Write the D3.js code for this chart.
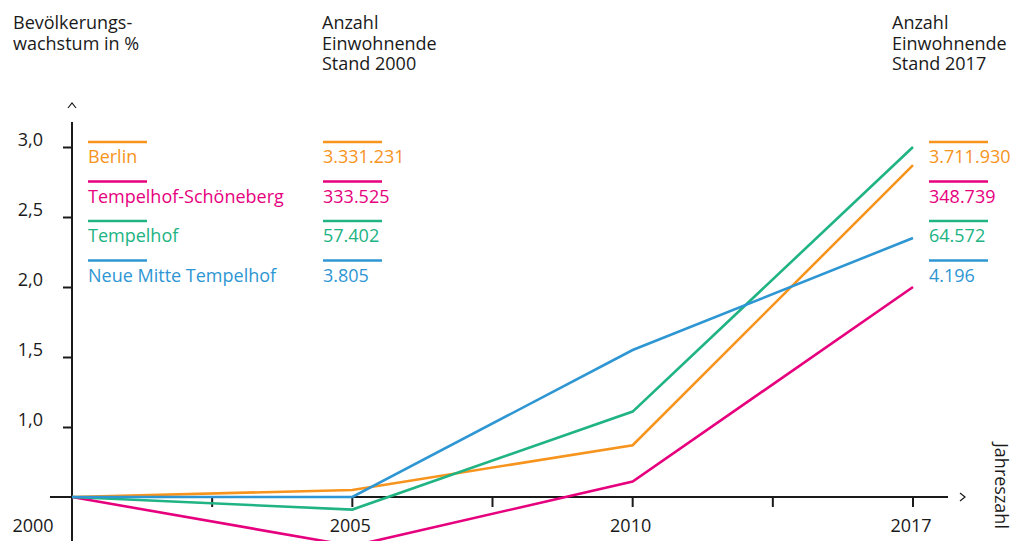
<!DOCTYPE html>
<html>
<head>
<meta charset="utf-8">
<script src="https://cdn.jsdelivr.net/npm/d3@7"></script>
<style>
  body { margin: 0; background: #fff; }
  svg { display: block; font-family: "Open Sans", sans-serif; }
</style>
</head>
<body>
<div id="chart"></div>
<script>
// values (growth scale as labelled on the axis)
var years = ["2000", "2005", "2010", "2017"];
var names = ["Berlin", "Tempelhof-Schöneberg", "Tempelhof", "Neue Mitte Tempelhof"];
var colors = ["#f7941d", "#e6007e", "#20b383", "#2e96d3"];
var berlin = [0.5, 0.55, 0.87, 2.87];
var schoeneberg = [0.5, 0.15, 0.61, 2.0];
var tempelhof = [0.5, 0.41, 1.11, 3.0];
var neueMitte = [0.5, 0.5, 1.55, 2.35];
var pop2000 = ["3.331.231", "333.525", "57.402", "3.805"];
var pop2017 = ["3.711.930", "348.739", "64.572", "4.196"];
var yTicks = [1.0, 1.5, 2.0, 2.5, 3.0];
var xMinorTicks = [0.5, 1, 1.5, 2, 2.5, 3];

var series = [berlin, schoeneberg, tempelhof, neueMitte];

var width = 1023, height = 541;
var svg = d3.select('#chart').append('svg')
  .attr('width', width)
  .attr('height', height);

var x = d3.scaleLinear().domain([0, 3]).range([72, 913]);
var y = d3.scaleLinear().domain([0.5, 3]).range([497, 147]);
var row = d3.scaleLinear().domain([0, 1]).range([142, 181.5]);

// headers, one text per line
var headers = [
  [13, ["Bevölkerungs-", "wachstum in %"]],
  [322, ["Anzahl", "Einwohnende", "Stand 2000"]],
  [892, ["Anzahl", "Einwohnende", "Stand 2017"]]
];
headers.forEach(function(h) {
  svg.append('g').selectAll('text')
    .data(h[1])
    .enter()
    .append('text')
    .attr('x', h[0])
    .attr('y', function(d, i) { return 29 + i * 20.5; })
    .style('font-size', '18px')
    .style('fill', '#1a1a1a')
    .text(function(d) { return d; });
});

// y axis
var yAxis = svg.append('g')
  .attr('transform', 'translate(72,0)')
  .call(d3.axisLeft(y).tickValues(yTicks).tickSize(9).tickPadding(20)
    .tickFormat(function(d) { return d3.format('.1f')(d).replace('.', ','); }));
yAxis.select('.domain').remove();
yAxis.selectAll('line').attr('stroke', '#1a1a1a').attr('stroke-width', 2);
yAxis.selectAll('text')
  .attr('dy', '-0.1em')
  .style('font-size', '18px')
  .style('font-family', '"Open Sans", sans-serif')
  .style('fill', '#1a1a1a');

svg.append('line')
  .attr('x1', 72).attr('x2', 72).attr('y1', 122).attr('y2', height)
  .attr('stroke', '#1a1a1a').attr('stroke-width', 2);

// x axis
svg.append('line')
  .attr('x1', 50).attr('x2', 948).attr('y1', y(0.5)).attr('y2', y(0.5))
  .attr('stroke', '#1a1a1a').attr('stroke-width', 2);

svg.selectAll('.xtick')
  .data(xMinorTicks)
  .enter()
  .append('line')
  .attr('class', 'xtick')
  .attr('x1', function(d) { return x(d); })
  .attr('x2', function(d) { return x(d); })
  .attr('y1', y(0.5)).attr('y2', y(0.5) + 10)
  .attr('stroke', '#1a1a1a').attr('stroke-width', 2);

svg.selectAll('.xlabel')
  .data(years)
  .enter()
  .append('text')
  .attr('class', 'xlabel')
  .attr('x', function(d, i) { return i == 0 ? x(0) - 39 : x(i) - 2; })
  .attr('y', 532)
  .attr('text-anchor', 'middle')
  .style('font-size', '18px')
  .style('fill', '#1a1a1a')
  .text(function(d) { return d; });

// arrow heads
svg.append('path')
  .attr('d', 'M68,108 L72,103 L76,108')
  .attr('fill', 'none').attr('stroke', '#1a1a1a').attr('stroke-width', 1.2);
svg.append('path')
  .attr('d', 'M960,493 L965,497 L960,501')
  .attr('fill', 'none').attr('stroke', '#1a1a1a').attr('stroke-width', 1.2);

svg.append('text')
  .attr('transform', 'translate(995,443) rotate(90)')
  .style('font-size', '18px')
  .style('fill', '#1a1a1a')
  .text('Jahreszahl');

// lines
var line = d3.line()
  .x(function(d, i) { return x(i); })
  .y(function(d) { return y(d); });

svg.selectAll('.series')
  .data(series)
  .enter()
  .append('path')
  .attr('class', 'series')
  .attr('d', line)
  .attr('fill', 'none')
  .attr('stroke', function(d, i) { return colors[i]; })
  .attr('stroke-width', 2.6)
  .attr('stroke-linejoin', 'miter');

// legend columns
var columns = [
  [88, names],
  [323, pop2000],
  [929, pop2017]
];
columns.forEach(function(c) {
  var g = svg.append('g').selectAll('g')
    .data(c[1])
    .enter()
    .append('g')
    .attr('transform', function(d, i) { return 'translate(' + c[0] + ',' + row(i) + ')'; });

  g.append('rect')
    .attr('x', 0).attr('y', -1.25)
    .attr('width', 59).attr('height', 2.5)
    .style('fill', function(d, i) { return colors[i]; });

  g.append('text')
    .attr('x', 0).attr('y', 21)
    .style('font-size', '18px')
    .style('fill', function(d, i) { return colors[i]; })
    .text(function(d) { return d; });
});
</script>
</body>
</html>
